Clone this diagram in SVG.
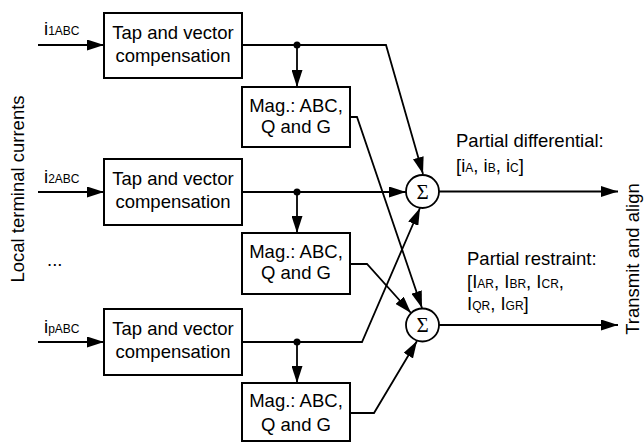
<svg xmlns="http://www.w3.org/2000/svg" width="644" height="442" viewBox="0 0 644 442">
<defs>
<style>
text{font-family:"Liberation Sans",Arial,sans-serif;font-size:18.5px;fill:#000}
.c{text-anchor:middle}
.s{font-size:12px}
.box{fill:#fff;stroke:#000;stroke-width:2}
.ln{fill:none;stroke:#000;stroke-width:1.8}
.sig{font-family:"Liberation Serif","Times New Roman",serif;font-size:21px;text-anchor:middle}
</style>
<marker id="ah" markerUnits="userSpaceOnUse" markerWidth="17" markerHeight="11" refX="17" refY="5.5" orient="auto">
<path d="M0,0 L17,5.5 L0,11 z" fill="#000"/>
</marker>
</defs>
<rect width="644" height="442" fill="#fff"/>

<g id="connectors">
<path class="ln" d="M38,45 H104" marker-end="url(#ah)"/>
<path class="ln" d="M38,192 H104" marker-end="url(#ah)"/>
<path class="ln" d="M38,342 H104" marker-end="url(#ah)"/>
<path class="ln" d="M242,45 H386 L423,174" marker-end="url(#ah)"/>
<path class="ln" d="M297,45 V87" marker-end="url(#ah)"/>
<path class="ln" d="M242,192 H406" marker-end="url(#ah)"/>
<path class="ln" d="M297,192 V233" marker-end="url(#ah)"/>
<path class="ln" d="M242,342 H362 L420,208" marker-end="url(#ah)"/>
<path class="ln" d="M297,342 V383" marker-end="url(#ah)"/>
<path class="ln" d="M350,117 H357 L422,308" marker-end="url(#ah)"/>
<path class="ln" d="M350,264 H367 L411,313" marker-end="url(#ah)"/>
<path class="ln" d="M350,413 H374 L417,341" marker-end="url(#ah)"/>
<path class="ln" d="M439,191.5 H618" marker-end="url(#ah)"/>
<path class="ln" d="M439,325 H618" marker-end="url(#ah)"/>
<circle cx="297" cy="45" r="3.5"/>
<circle cx="297" cy="192" r="3.5"/>
<circle cx="297" cy="342" r="3.5"/>
</g>

<g id="tap1"><rect class="box" x="104" y="13" width="138" height="65"/><text class="c" x="173" y="39">Tap and vector</text><text class="c" x="173" y="62">compensation</text></g>
<g id="tap2"><rect class="box" x="104" y="159" width="138" height="66"/><text class="c" x="173" y="185">Tap and vector</text><text class="c" x="173" y="208">compensation</text></g>
<g id="tap3"><rect class="box" x="104" y="309" width="138" height="66"/><text class="c" x="173" y="335">Tap and vector</text><text class="c" x="173" y="358">compensation</text></g>

<g id="mag1"><rect class="box" x="242" y="87" width="108" height="60"/><text class="c" x="296" y="112">Mag.: ABC,</text><text class="c" x="296" y="133">Q and G</text></g>
<g id="mag2"><rect class="box" x="242" y="233" width="108" height="61"/><text class="c" x="296" y="258">Mag.: ABC,</text><text class="c" x="296" y="279">Q and G</text></g>
<g id="mag3"><rect class="box" x="242" y="383" width="108" height="58"/><text class="c" x="296" y="407">Mag.: ABC,</text><text class="c" x="296" y="431">Q and G</text></g>

<g id="sum1"><circle cx="422.5" cy="191.5" r="16.5" fill="#fff" stroke="#000" stroke-width="1.8"/><text class="sig" x="422.5" y="198.5">Σ</text></g>
<g id="sum2"><circle cx="422.5" cy="325" r="16.5" fill="#fff" stroke="#000" stroke-width="1.8"/><text class="sig" x="422.5" y="332">Σ</text></g>

<g id="inputs">
<text x="44" y="35">i<tspan class="s">1ABC</tspan></text>
<text x="44" y="183">i<tspan class="s">2ABC</tspan></text>
<text x="44" y="333">i<tspan class="s">pABC</tspan></text>
<text x="47" y="266">...</text>
</g>

<g id="labels">
<text x="456" y="147">Partial differential:</text>
<text x="456" y="172">[i<tspan class="s">A</tspan>, i<tspan class="s">B</tspan>, i<tspan class="s">C</tspan>]</text>
<text x="467" y="265">Partial restraint:</text>
<text x="467" y="288">[I<tspan class="s">AR</tspan>, I<tspan class="s">BR</tspan>, I<tspan class="s">CR</tspan>,</text>
<text x="467" y="310">I<tspan class="s">QR</tspan>, I<tspan class="s">GR</tspan>]</text>
<text class="c" transform="translate(24,189) rotate(-90)">Local terminal currents</text>
<text class="c" transform="translate(639,259) rotate(-90)">Transmit and align</text>
</g>
</svg>
